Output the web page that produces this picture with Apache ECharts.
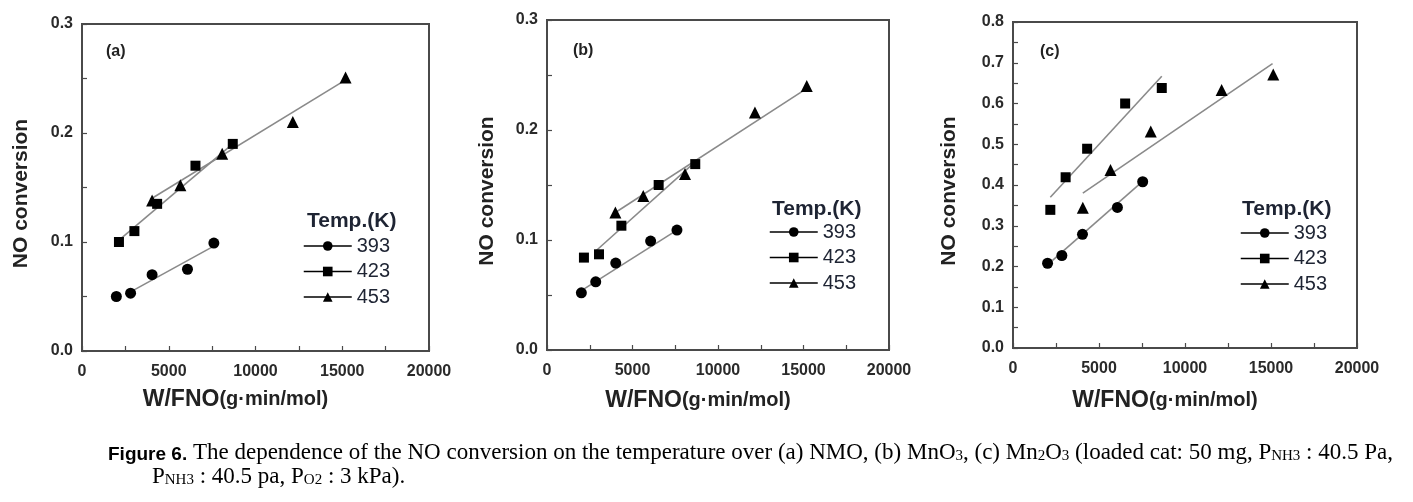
<!DOCTYPE html>
<html><head><meta charset="utf-8">
<script src="https://cdn.jsdelivr.net/npm/echarts@6/dist/echarts.min.js"></script>
<style>html,body{margin:0;padding:0;background:#fff}#c{width:1413px;height:502px}</style>
</head><body><div id="c"></div>
<script>
// ---- data ----
const tempLabels = ['393', '423', '453'];
const panelLabels = ['(a)', '(b)', '(c)'];
const yMaxes = [0.3, 0.3, 0.8];

// panel (a) NMO
const a393 = [[1980,0.050],[2800,0.053],[4040,0.070],[6080,0.075],[7600,0.099]];
const a423 = [[2130,0.100],[3020,0.110],[4330,0.135],[6540,0.170],[8690,0.190]];
const a453 = [[4040,0.138],[5670,0.152],[8080,0.181],[12150,0.210],[15190,0.251]];
const fitA393 = [[2770,0.054],[7570,0.096]];
const fitA423 = [[2150,0.102],[8690,0.190]];
const fitA453 = [[3920,0.139],[15220,0.249]];

// panel (b) MnO3
const b393 = [[2010,0.052],[2850,0.062],[4020,0.079],[6060,0.099],[7600,0.109]];
const b423 = [[2160,0.084],[3040,0.087],[4350,0.113],[6530,0.150],[8670,0.169]];
const b453 = [[4000,0.125],[5630,0.140],[8070,0.160],[12160,0.216],[15190,0.240]];
const fitB393 = [[2010,0.054],[7600,0.109]];
const fitB423 = [[2850,0.090],[8730,0.172]];
const fitB453 = [[4000,0.125],[15220,0.238]];

// panel (c) Mn2O3
const c393 = [[2010,0.208],[2840,0.227],[4040,0.279],[6070,0.345],[7540,0.408]];
const c423 = [[2170,0.339],[3060,0.419],[4310,0.489],[6520,0.600],[8650,0.638]];
const c453 = [[4060,0.344],[5670,0.437],[8010,0.531],[12130,0.633],[15130,0.671]];
const fitC393 = [[2300,0.215],[7620,0.412]];
const fitC423 = [[2170,0.370],[8650,0.667]];
const fitC453 = [[4060,0.380],[15090,0.698]];

// ---- layout / style ----
const panelData = [[a393,a423,a453],[b393,b423,b453],[c393,c423,c453]];
const panelFits = [[fitA393,fitA423,fitA453],[fitB393,fitB423,fitB453],[fitC393,fitC423,fitC453]];
const grids = [
  {left:82, top:24, width:347, height:327},
  {left:547, top:20, width:342, height:330},
  {left:1013, top:22, width:344, height:326}
];
const yNameGap = [50, 49, 53];
const xNameGap = [37, 39, 41];
const legendPos = [{left:303, top:236, tx:307, ty:211}, {left:769, top:222, tx:772, ty:199}, {left:1240, top:223, tx:1242, ty:199}];
const labelPos = [{x:106, y:44}, {x:573, y:43}, {x:1040, y:44}];
const symbols = ['circle', 'rect', 'triangle'];
const symSizes = [11, 10, 12];
const frameColor = '#4a4a4a';
const labelFont = 'Liberation Sans, Arial, sans-serif';

const option = {
  animation: false,
  backgroundColor: '#fff',
  grid: grids.map(g => Object.assign({show:true, borderColor:frameColor, borderWidth:2, backgroundColor:'transparent'}, g)),
  xAxis: grids.map((g, i) => ({
    gridIndex: i, type: 'value', min: 0, max: 20000, interval: 5000,
    name: '{a|W/FNO}{b|(g·min/mol)}', nameLocation: 'middle', nameGap: xNameGap[i],
    nameTextStyle: {padding:[0,40,0,0], rich: {
      a: {fontSize: 23, fontWeight: 'bold', fontFamily: labelFont, color: '#222'},
      b: {fontSize: 20, fontWeight: 'bold', fontFamily: labelFont, color: '#222'}
    }},
    axisLine: {lineStyle: {color: frameColor, width: 2}},
    axisTick: {inside: true, length: 5, lineStyle: {color: frameColor, width: 1.2}},
    minorTick: {show: true, splitNumber: 2, length: 5, lineStyle: {color: frameColor, width: 1.2}},
    splitLine: {show: false},
    axisLabel: {fontSize: 16, fontWeight: 'bold', fontFamily: labelFont, color: '#2a2a2a', margin: 13,
      formatter: v => String(v)}
  })),
  yAxis: grids.map((g, i) => ({
    gridIndex: i, type: 'value', min: 0, max: yMaxes[i], interval: 0.1,
    name: 'NO conversion', nameLocation: 'middle', nameGap: yNameGap[i],
    nameTextStyle: {fontSize: 21, fontWeight: 'bold', fontFamily: labelFont, color: '#222', padding: [0, 12, 0, 0]},
    axisLine: {lineStyle: {color: frameColor, width: 2}},
    axisTick: {inside: true, length: 5, lineStyle: {color: frameColor, width: 1.2}},
    minorTick: {show: true, splitNumber: 2, length: 5, lineStyle: {color: frameColor, width: 1.2}},
    splitLine: {show: false},
    axisLabel: {fontSize: 16, fontWeight: 'bold', fontFamily: labelFont, color: '#2a2a2a', margin: 9,
      formatter: v => v.toFixed(1)}
  })),
  legend: legendPos.map(p => ({
    data: tempLabels, orient: 'vertical', left: p.left, top: p.top, padding: 0,
    itemWidth: 48, itemHeight: 12, itemGap: 5.5, selectedMode: false,
    textStyle: {fontSize: 20, fontFamily: labelFont, color: '#1e2433'},
    lineStyle: {color: '#000', width: 1.5, opacity: 1},
    itemStyle: {color: '#000', opacity: 1}
  })),
  series: [],
  graphic: []
};

panelData.forEach((sets, p) => {
  sets.forEach((d, k) => {
    option.series.push({
      type: 'line', name: tempLabels[k], xAxisIndex: p, yAxisIndex: p,
      data: d, symbol: symbols[k], symbolSize: symSizes[k], showSymbol: true,
      itemStyle: {color: '#000'}, lineStyle: {color: '#000', opacity: 0}, z: 5,
      emphasis: {disabled: true}
    });
  });
  panelFits[p].forEach((d, k) => {
    option.series.push({
      type: 'line', name: 'fit' + tempLabels[k], xAxisIndex: p, yAxisIndex: p,
      data: d, showSymbol: false, symbol: 'none',
      lineStyle: {color: '#8a8a8a', width: 1.6}, z: 3, emphasis: {disabled: true}
    });
  });
  option.graphic.push({type:'text', left: labelPos[p].x, top: labelPos[p].y,
    style: {text: panelLabels[p], font: 'bold 16px ' + labelFont, fill: '#222'}});
  option.graphic.push({type:'text', left: legendPos[p].tx, top: legendPos[p].ty,
    style: {text: 'Temp.(K)', font: 'bold 21px ' + labelFont, fill: '#1e2433'}});
});

const serif = 'Liberation Serif, Times New Roman, serif';
const capRich = {
  fig: {fontSize: 19, fontWeight: 'bold', fontFamily: labelFont, color: '#1d3c78', lineHeight: 26, verticalAlign: 'bottom'},
  t: {fontSize: 23, fontFamily: serif, color: '#000', lineHeight: 26, verticalAlign: 'bottom'},
  s: {fontSize: 15, fontFamily: serif, color: '#000', lineHeight: 14, verticalAlign: 'bottom'}
};
option.graphic.push({type: 'text', left: 108, top: 441, style: {rich: capRich,
  text: '{fig|Figure 6.}{t| The dependence of the NO conversion on the temperature over (a) NMO, (b) MnO}{s|3}{t|, (c) Mn}{s|2}{t|O}{s|3}{t| (loaded cat: 50 mg, P}{s|NH3}{t| : 40.5 Pa,}'}});
option.graphic.push({type: 'text', left: 152, top: 465, style: {rich: capRich,
  text: '{t|P}{s|NH3}{t| : 40.5 pa, P}{s|O2}{t| : 3 kPa).}'}});

const chart = echarts.init(document.getElementById('c'), null, {renderer: 'canvas'});
chart.setOption(option);
</script></body></html>
